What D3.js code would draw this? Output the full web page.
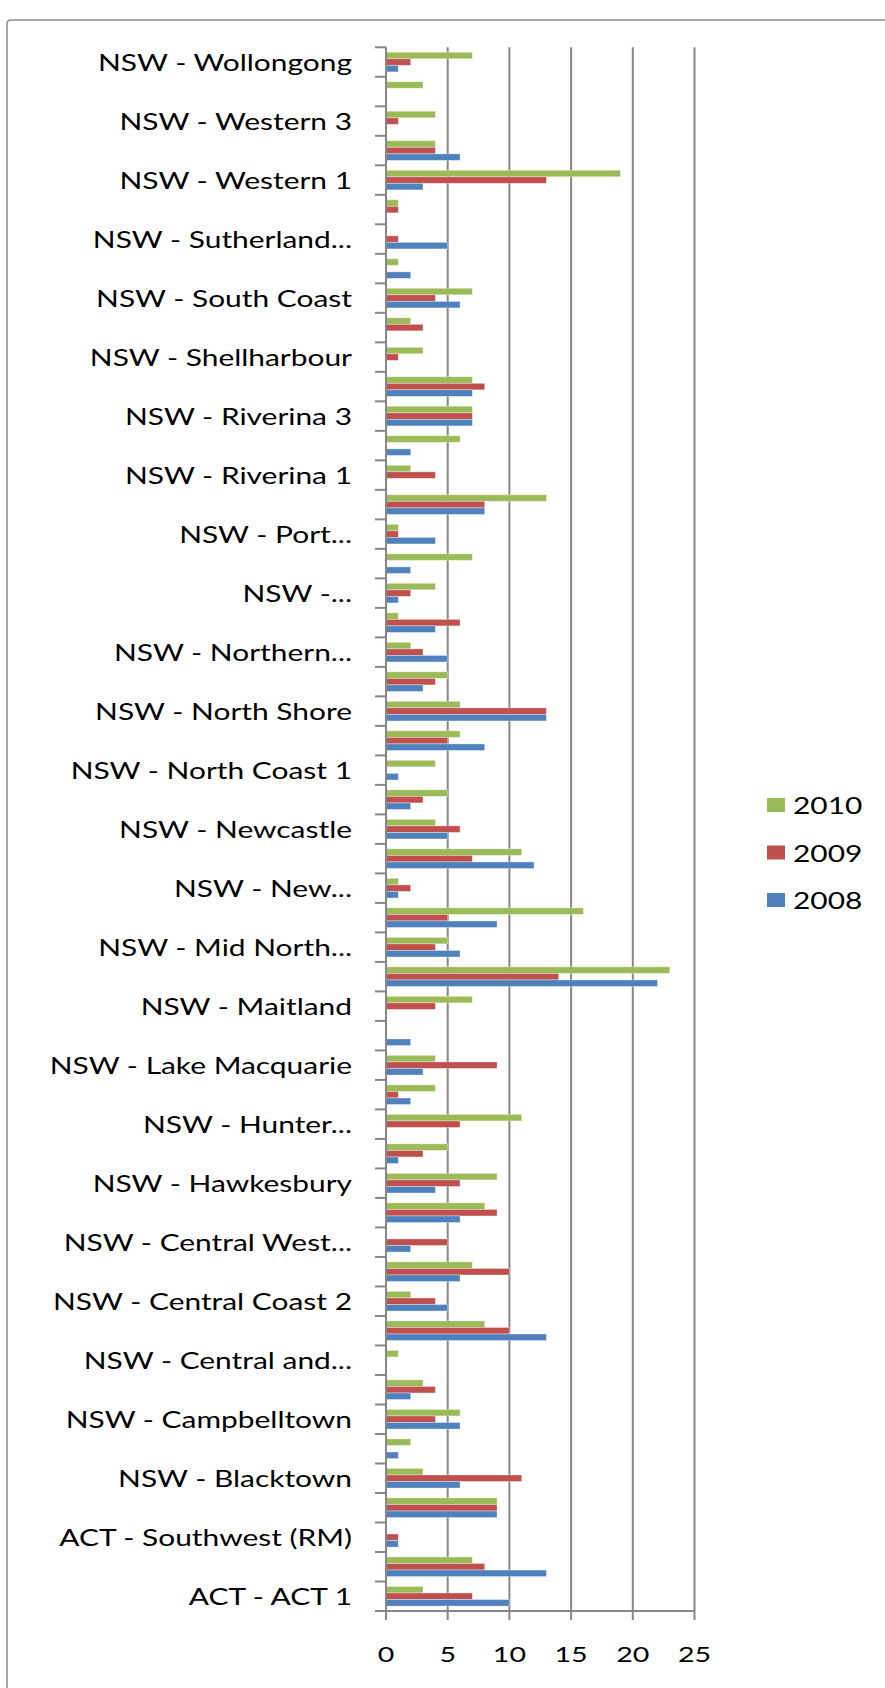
<!DOCTYPE html>
<html>
<head>
<meta charset="utf-8">
<script src="https://cdn.jsdelivr.net/npm/d3@7"></script>
<style>
  html, body { margin: 0; padding: 0; background: #fff; }
  svg { display: block; }
  text { font-family: Lato, "Open Sans", sans-serif; fill: #000; }
</style>
</head>
<body>
<svg id="chart" width="885" height="1688"></svg>
<script>
// Categories, bottom (index 0) to top
const categories = [
  "ACT - ACT 1", "ACT - ACT 2", "ACT - Southwest (RM)", "NSW - Bankstown", "NSW - Blacktown",
  "NSW - Blue Mountains", "NSW - Campbelltown", "NSW - Canterbury", "NSW - Central and...", "NSW - Central Coast 1",
  "NSW - Central Coast 2", "NSW - Central Coast 3", "NSW - Central West...", "NSW - Fairfield", "NSW - Hawkesbury",
  "NSW - Hornsby", "NSW - Hunter...", "NSW - Illawarra", "NSW - Lake Macquarie", "NSW - Liverpool",
  "NSW - Maitland", "NSW - Manly", "NSW - Mid North...", "NSW - Nepean", "NSW - New...",
  "NSW - New England", "NSW - Newcastle", "NSW - Newcastle 2", "NSW - North Coast 1", "NSW - North Coast 2",
  "NSW - North Shore", "NSW - North West", "NSW - Northern...", "NSW - Orange", "NSW -...",
  "NSW - Penrith", "NSW - Port...", "NSW - Randwick", "NSW - Riverina 1", "NSW - Riverina 2",
  "NSW - Riverina 3", "NSW - Ryde", "NSW - Shellharbour", "NSW - Shoalhaven", "NSW - South Coast",
  "NSW - St George", "NSW - Sutherland...", "NSW - Tamworth", "NSW - Western 1", "NSW - Western 2",
  "NSW - Western 3", "NSW - Willoughby", "NSW - Wollongong"
];
const values2010 = [3,7,0,9,3, 2,6,3,1,8, 2,7,0,8,9, 5,11,4,4,0, 7,23,5,16,1, 11,4,5,4,6, 6,5,2,1,4, 7,1,13,2,6, 7,7,3,2,7, 1,0,1,19,4, 4,3,7];
const values2009 = [7,8,1,9,11, 0,4,4,0,10, 4,10,5,9,6, 3,6,1,9,0, 4,14,4,5,2, 7,6,3,0,5, 13,4,3,6,2, 0,1,8,4,0, 7,8,1,3,4, 0,1,1,13,4, 1,0,2];
const values2008 = [10,13,1,9,6, 1,6,2,0,13, 5,6,2,6,4, 1,0,2,3,2, 0,22,6,9,1, 12,5,2,1,8, 13,3,5,4,1, 2,4,8,0,2, 7,7,0,0,6, 2,5,0,3,6, 0,0,1];
const seriesNames = ["2010", "2009", "2008"];
const seriesColors = ["#9BBB59", "#C0504D", "#4F81BD"];
const xTickValues = [0, 5, 10, 15, 20, 25];

const STRETCH = 1.3;
const svg = d3.select("#chart");

// frame
svg.append("path")
  .attr("d", "M7,1688 L7,24 Q7,20 11,20 L900,20")
  .attr("fill", "none").attr("stroke", "#8a8a8a").attr("stroke-width", 1.5);

const x = d3.scaleLinear().domain([0, 25]).range([386, 694.5]);
const idx = d3.range(categories.length);
const y = d3.scaleBand().domain(idx.slice().reverse()).range([47.3, 1611]);
const yInner = d3.scaleBand().domain(seriesNames).range([0, y.bandwidth()]).paddingOuter(0.75).paddingInner(0);

const gridColor = "#878787";
// gridlines
svg.append("g").selectAll("line").data(xTickValues.slice(1)).join("line")
  .attr("x1", d => x(d)).attr("x2", d => x(d))
  .attr("y1", y.range()[0]).attr("y2", y.range()[1])
  .attr("stroke", gridColor).attr("stroke-width", 2);

// bars
const data = idx.map(i => ({ i, vals: [values2010[i], values2009[i], values2008[i]] }));
const groups = svg.append("g").selectAll("g").data(data).join("g")
  .attr("transform", d => `translate(0,${y(d.i)})`);
groups.selectAll("rect").data(d => d.vals.map((v, k) => ({ v, k })).filter(e => e.v > 0)).join("rect")
  .attr("x", x(0))
  .attr("y", e => yInner(seriesNames[e.k]))
  .attr("width", e => x(e.v) - x(0))
  .attr("height", yInner.bandwidth())
  .attr("fill", e => seriesColors[e.k])
  .attr("stroke", "rgba(255,255,255,0.45)").attr("stroke-width", 0.8);

// vertical (category) axis line
svg.append("line")
  .attr("x1", x(0)).attr("x2", x(0))
  .attr("y1", y.range()[0]).attr("y2", y.range()[1] + 9)
  .attr("stroke", gridColor).attr("stroke-width", 2);
// category tick marks at band boundaries
const boundaries = idx.map(i => y(i)).concat([y.range()[1]]);
svg.append("g").selectAll("line").data(boundaries).join("line")
  .attr("x1", x(0) - 11).attr("x2", x(0))
  .attr("y1", d => d).attr("y2", d => d)
  .attr("stroke", gridColor).attr("stroke-width", 2);

// horizontal value axis
svg.append("line")
  .attr("x1", x(0) - 11).attr("x2", x(25))
  .attr("y1", y.range()[1]).attr("y2", y.range()[1])
  .attr("stroke", gridColor).attr("stroke-width", 2);
svg.append("g").selectAll("line").data(xTickValues).join("line")
  .attr("x1", d => x(d)).attr("x2", d => x(d))
  .attr("y1", y.range()[1]).attr("y2", y.range()[1] + 9)
  .attr("stroke", gridColor).attr("stroke-width", 2);

function stretch(sel) {
  sel.each(function() {
    const w = this.getComputedTextLength();
    d3.select(this).attr("textLength", w * STRETCH).attr("lengthAdjust", "spacingAndGlyphs");
  });
}

// x tick labels
svg.append("g").selectAll("text").data(xTickValues).join("text")
  .attr("x", d => x(d)).attr("y", 1653)
  .attr("text-anchor", "middle").attr("dominant-baseline", "central")
  .attr("font-size", 22)
  .text(d => d)
  .call(stretch);

// category labels (every other)
svg.append("g").selectAll("text").data(idx.filter(i => i % 2 === 0)).join("text")
  .attr("x", 352).attr("y", i => y(i) + y.bandwidth() / 2)
  .attr("text-anchor", "end").attr("dominant-baseline", "central")
  .attr("font-size", 23)
  .text(i => categories[i])
  .call(stretch);

// legend
const legend = svg.append("g").selectAll("g").data(seriesNames).join("g")
  .attr("transform", (d, k) => `translate(767,${805 + k * 47.5})`);
legend.append("rect").attr("x", 0).attr("y", -7).attr("width", 18).attr("height", 14)
  .attr("fill", (d, k) => seriesColors[k]);
legend.append("text").attr("x", 26).attr("y", 0).attr("dominant-baseline", "central")
  .attr("font-size", 23).text(d => d).call(stretch);
</script>
</body>
</html>
